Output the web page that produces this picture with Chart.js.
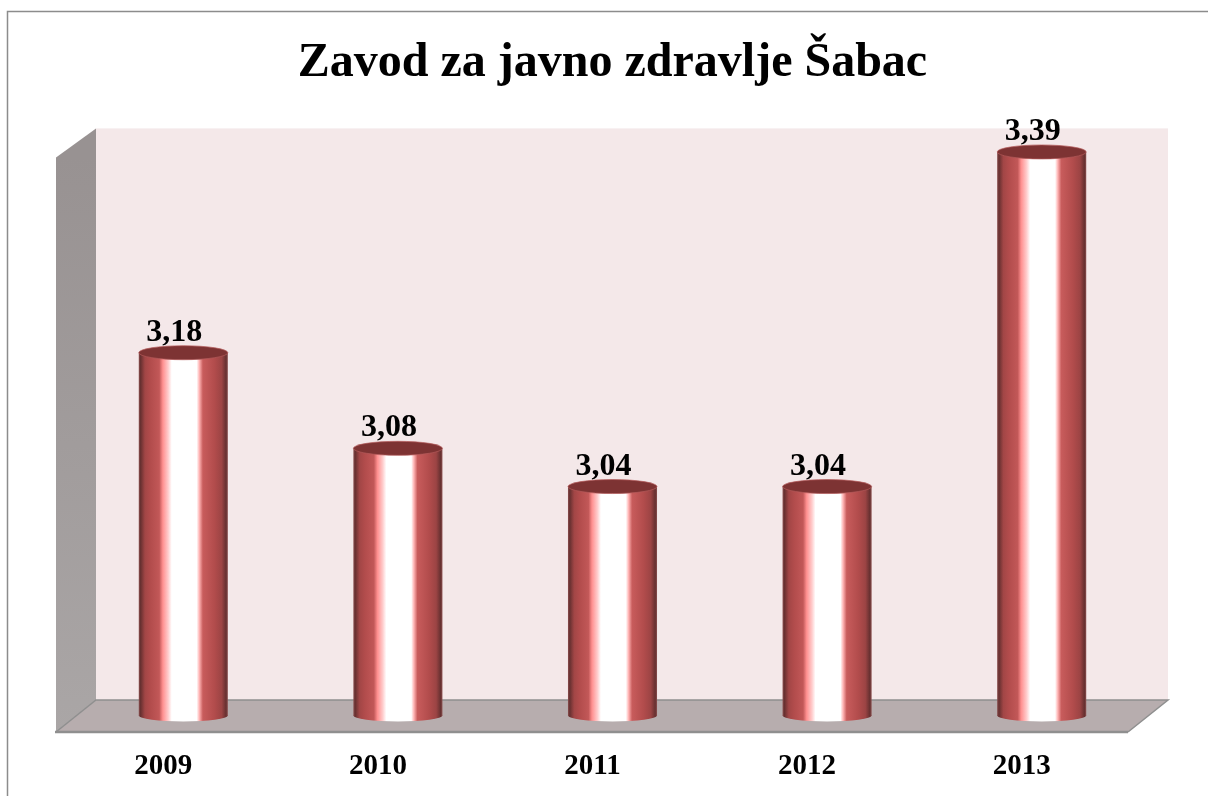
<!DOCTYPE html>
<html>
<head>
<meta charset="utf-8">
<style>html,body{margin:0;padding:0;background:#fff}canvas{display:block}#w{width:1208px;height:796px}</style>
<script src="https://cdn.jsdelivr.net/npm/chart.js@4"></script>
</head>
<body>
<div id="w"><canvas id="c" width="1208" height="796"></canvas></div>
<script>
const categories = ['2009','2010','2011','2012','2013'];
const values = [3.18,3.08,3.04,3.04,3.39];
const valueLabels = ['3,18','3,08','3,04','3,04','3,39'];
const chartTitle = 'Zavod za javno zdravlje Šabac';
const SERIF = '"Liberation Serif","Times New Roman",serif';
const BAR_FRACTION = 0.415;

function cylGradient(ctx, left, right) {
  const g = ctx.createLinearGradient(left, 0, right, 0);
  g.addColorStop(0.00, '#8a4f4f');
  g.addColorStop(0.02, '#663030');
  g.addColorStop(0.07, '#a24646');
  g.addColorStop(0.13, '#b24c4c');
  g.addColorStop(0.23, '#c25858');
  g.addColorStop(0.27, '#ff9090');
  g.addColorStop(0.33, '#ffcccc');
  g.addColorStop(0.37, '#ffffff');
  g.addColorStop(0.65, '#ffffff');
  g.addColorStop(0.68, '#ffb4b4');
  g.addColorStop(0.72, '#c85c5c');
  g.addColorStop(0.85, '#b24c4c');
  g.addColorStop(0.93, '#9c4444');
  g.addColorStop(0.98, '#663030');
  g.addColorStop(1.00, '#8a4f4f');
  return g;
}

const scene = {
  id: 'scene',
  beforeDatasetsDraw(chart) {
    const {ctx, chartArea: a} = chart;
    const dx = 20, dyTop = 14, dyBot = 16;
    const bL = a.left + dx, bR = a.right + dx - 1, bT = a.top - dyTop, bB = a.bottom - dyBot;
    const fL = a.left - dx, fR = a.right - dx - 1, fB = a.bottom + dyBot;
    const fT = bT + 29;
    ctx.save();
    ctx.fillStyle = '#f4e8e9';
    ctx.fillRect(bL, bT, bR - bL, bB - bT);
    const sg = ctx.createLinearGradient(0, fT, 0, fB);
    sg.addColorStop(0, '#989292'); sg.addColorStop(1, '#aaa6a6');
    ctx.fillStyle = sg;
    ctx.beginPath();
    ctx.moveTo(fL, fT); ctx.lineTo(bL, bT); ctx.lineTo(bL, bB); ctx.lineTo(fL, fB);
    ctx.closePath(); ctx.fill();
    ctx.fillStyle = '#b7adae';
    ctx.beginPath();
    ctx.moveTo(fL, fB); ctx.lineTo(bL, bB); ctx.lineTo(bR, bB); ctx.lineTo(fR, fB);
    ctx.closePath(); ctx.fill();
    ctx.strokeStyle = '#8f8f8f'; ctx.lineWidth = 1.5;
    ctx.beginPath();
    ctx.moveTo(fL, fB); ctx.lineTo(bL, bB); ctx.lineTo(bR, bB); ctx.lineTo(fR, fB);
    ctx.stroke();
    ctx.lineWidth = 2.5;
    ctx.beginPath(); ctx.moveTo(fL - 1, fB); ctx.lineTo(fR, fB); ctx.stroke();
    ctx.strokeStyle = '#8c8c8c'; ctx.lineWidth = 1.5;
    ctx.beginPath(); ctx.moveTo(7.5, 796); ctx.lineTo(7.5, 11.5); ctx.lineTo(1208, 11.5); ctx.stroke();
    ctx.restore();
  },
  afterDatasetsDraw(chart) {
    const {ctx, chartArea: a} = chart;
    ctx.save();
    chart.getDatasetMeta(0).data.forEach((el, i) => {
      const l = el.x - el.width / 2, r = el.x + el.width / 2;
      ctx.fillStyle = cylGradient(ctx, l, r);
      ctx.beginPath();
      ctx.ellipse(el.x, a.bottom - 0.5, el.width / 2, 6, 0, 0, Math.PI);
      ctx.closePath();
      ctx.fill();
      ctx.fillStyle = '#7d3333';
      ctx.beginPath();
      ctx.ellipse(el.x, el.y, el.width / 2, 7, 0, 0, Math.PI * 2);
      ctx.fill();
      ctx.strokeStyle = 'rgba(180,90,90,.7)';
      ctx.lineWidth = 1;
      ctx.stroke();
      ctx.fillStyle = '#000';
      ctx.font = 'bold 32px ' + SERIF;
      ctx.textAlign = 'center';
      ctx.textBaseline = 'alphabetic';
      ctx.fillText(valueLabels[i], el.x - 9, el.y - 12);
    });
    ctx.restore();
  }
};

new Chart(document.getElementById('c'), {
  type: 'bar',
  data: {
    labels: categories,
    datasets: [{
      data: values,
      barPercentage: BAR_FRACTION,
      categoryPercentage: 1,
      borderWidth: 0,
      backgroundColor(c) {
        const s = c.chart.scales.x;
        if (!s || !s.width) return '#b44e4e';
        const w = s.width / categories.length * BAR_FRACTION;
        const x = s.getPixelForValue(c.dataIndex);
        return cylGradient(c.chart.ctx, x - w / 2, x + w / 2);
      }
    }]
  },
  options: {
    responsive: false,
    animation: false,
    layout: {padding: {left: 76, right: 59, top: 0, bottom: 0}},
    plugins: {
      legend: {display: false},
      tooltip: {enabled: false},
      title: {
        display: true,
        text: chartTitle,
        color: '#000',
        font: {family: SERIF, size: 48, weight: 'bold'},
        padding: {top: 35, bottom: 49.8}
      }
    },
    scales: {
      x: {
        grid: {display: false},
        border: {display: false},
        afterFit(s) { s.height = 80; },
        ticks: {color: '#000', font: {family: SERIF, size: 29, weight: 'bold'}, padding: 25, maxRotation: 0, labelOffset: -20}
      },
      y: {display: false, min: 2.8, max: 3.4}
    }
  },
  plugins: [scene]
});
</script>
</body>
</html>
